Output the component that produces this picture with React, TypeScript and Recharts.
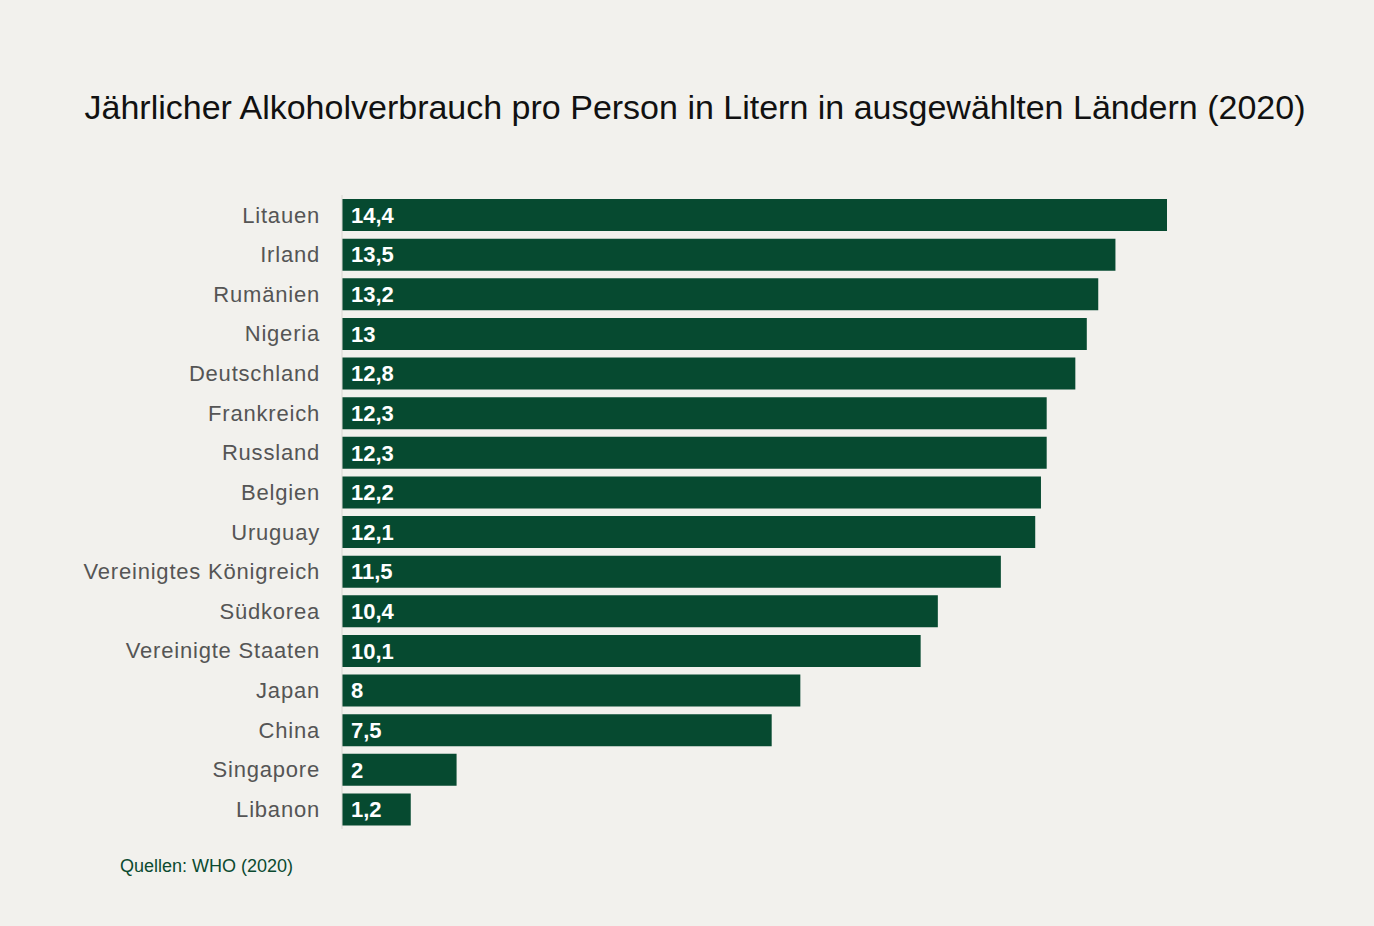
import { Bar, BarChart, LabelList, XAxis, YAxis } from "recharts";

const countries = [
  "Litauen",
  "Irland",
  "Rumänien",
  "Nigeria",
  "Deutschland",
  "Frankreich",
  "Russland",
  "Belgien",
  "Uruguay",
  "Vereinigtes Königreich",
  "Südkorea",
  "Vereinigte Staaten",
  "Japan",
  "China",
  "Singapore",
  "Libanon",
];
const liters = [14.4, 13.5, 13.2, 13, 12.8, 12.3, 12.3, 12.2, 12.1, 11.5, 10.4, 10.1, 8, 7.5, 2, 1.2];

const data = countries.map((country, i) => ({ country, liters: liters[i] }));

const BG = "#f2f1ed";
const GREEN = "#064a30";

export default function App() {
  return (
    <div style={{ position: "relative", width: 1374, height: 926, background: BG, fontFamily: "'Liberation Sans', Arial, sans-serif" }}>
      <style>{`body{margin:0}`}</style>
      <div
        style={{
          position: "absolute",
          top: 88,
          left: 0,
          width: 1374,
          textAlign: "center",
          fontSize: 34,
          color: "#111",
          paddingLeft: 16,
          boxSizing: "border-box",
        }}
      >
        Jährlicher Alkoholverbrauch pro Person in Litern in ausgewählten Ländern (2020)
      </div>
      <div style={{ position: "absolute", top: 0, left: 0 }}>
        <BarChart
          width={1374}
          height={926}
          data={data}
          layout="vertical"
          margin={{ top: 195, right: 207, bottom: 97, left: 0 }}
          barCategoryGap={4}
        >
          <XAxis type="number" domain={[0, 14.4]} hide />
          <YAxis
            type="category"
            dataKey="country"
            width={342}
            tickLine={false}
            tickSize={0}
            tickMargin={22}
            axisLine={{ stroke: "#d9d7d2" }}
            tick={{ fill: "#555", fontSize: 22, letterSpacing: 0.8 }}
            interval={0}
          />
          <Bar dataKey="liters" fill={GREEN} isAnimationActive={false}>
            <LabelList
              dataKey="liters"
              position="insideLeft"
              offset={9}
              fill="#fff"
              fontSize={22}
              fontWeight="bold"
              formatter={(v: any) => String(v).replace(".", ",")}
            />
          </Bar>
        </BarChart>
      </div>
      <div style={{ position: "absolute", top: 856, left: 120, fontSize: 18, color: "#0b4a30" }}>
        Quellen: WHO (2020)
      </div>
    </div>
  );
}
